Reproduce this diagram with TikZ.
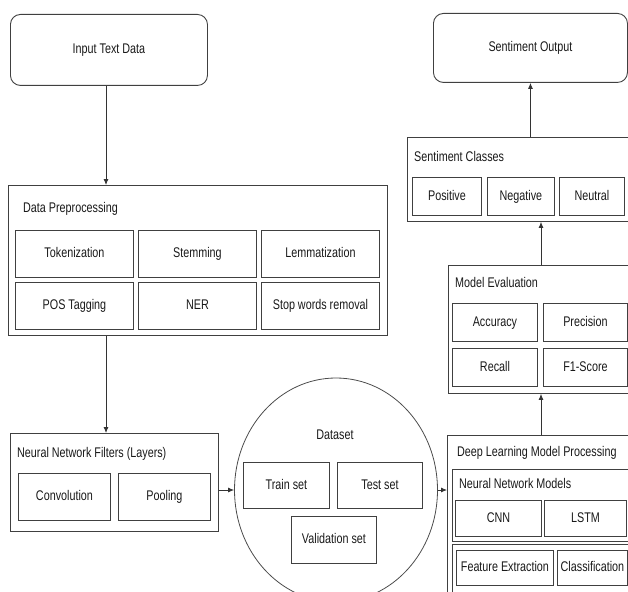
\documentclass[tikz,border=0pt]{standalone}
\usepackage{fontspec}
\setmainfont[FakeStretch=0.77]{Liberation Sans}
\usetikzlibrary{arrows.meta,shapes.geometric}
\tikzset{
  every node/.style={font=\fontsize{14pt}{16pt}\selectfont, text=black!90, text height=1em, text depth=0.2em},
  bx/.style={draw=black!75, line width=0.9pt, anchor=north west, inner sep=0pt},
  rbx/.style={bx, rounded corners=10pt},
  lbl/.style={anchor=west, inner sep=0pt},
  arr/.style={draw=black!80, line width=0.8pt, -{Latex[length=6pt,width=5pt]}}
}
\newcommand{\bxat}[6]{\node[bx, minimum width=#4pt-#2pt, minimum height=#5pt-#3pt] (#1) at (#2,#3) {#6};}
\begin{document}
\begin{tikzpicture}[x=1pt,y=-1pt]
\useasboundingbox (0,0) rectangle (628,591);
\clip (0,0) rectangle (628,591);
% Input
\node[rbx, minimum width=197pt, minimum height=71pt] (in) at (10,14) {Input Text Data};
% Data preprocessing
\bxat{dp}{8}{185}{387}{335}{}
\node[lbl] (dpl) at (23,208) {Data Preprocessing};
\bxat{tok}{15}{230}{133}{277}{Tokenization}
\bxat{stem}{138}{230}{256}{277}{Stemming}
\bxat{lem}{261}{230}{379}{277}{Lemmatization}
\bxat{pos}{15}{282}{133}{329}{POS Tagging}
\bxat{ner}{138}{282}{256}{329}{NER}
\bxat{stop}{261}{282}{379}{329}{Stop words removal}
% Neural network filters
\bxat{nnf}{10}{433}{218}{531}{}
\node[lbl] (nnfl) at (17,453) {Neural Network Filters (Layers)};
\bxat{conv}{18}{473}{110}{520}{Convolution}
\bxat{pool}{118}{473}{210}{520}{Pooling}
% Dataset
\node[ellipse, draw=black!70, line width=0.8pt, minimum width=203pt, minimum height=224pt, inner sep=0pt] (ds) at (336,490) {};
\node (dsl) at (335,435) {Dataset};
\bxat{train}{243}{462}{329}{508}{Train set}
\bxat{test}{337}{462}{422}{508}{Test set}
\bxat{val}{291}{516}{376}{563}{Validation set}
% Deep learning
\bxat{dl}{447}{435}{700}{700}{}
\node[lbl] (dll) at (457,452) {Deep Learning Model Processing};
\bxat{nnm}{452}{469}{630}{541}{}
\node[lbl] (nnml) at (459,484) {Neural Network Models};
\bxat{cnn}{455}{500}{541}{536}{CNN}
\bxat{lstm}{544}{500}{626}{536}{LSTM}
\bxat{fc}{452}{544}{640}{620}{}
\bxat{feat}{456}{550}{553}{585}{Feature Extraction}
\bxat{cls}{557}{550}{627}{585}{Classification}
% Model evaluation
\bxat{me}{448}{265}{700}{393}{}
\node[lbl] (mel) at (455,283) {Model Evaluation};
\bxat{acc}{452}{303}{537}{341}{Accuracy}
\bxat{prec}{543}{303}{627}{341}{Precision}
\bxat{rec}{452}{348}{537}{386}{Recall}
\bxat{f1}{543}{348}{627}{386}{F1-Score}
% Sentiment classes
\bxat{sc}{407}{137}{700}{221}{}
\node[lbl] (scl) at (414,157) {Sentiment Classes};
\bxat{posi}{412}{177}{481}{215}{Positive}
\bxat{nega}{487}{177}{554}{215}{Negative}
\bxat{neut}{559}{177}{624}{215}{Neutral}
% Output
\node[rbx, minimum width=194pt, minimum height=69pt] (out) at (433,13) {Sentiment Output};
% Connectors
\coordinate (cx) at (541,0);
\coordinate (lx) at (106,0);
\draw[arr] (lx |- in.south) -- (lx |- dp.north);
\draw[arr] (lx |- dp.south) -- (lx |- nnf.north);
\draw[arr] (ds.west -| nnf.east) -- (ds.west);
\draw[arr] (ds.east) -- (ds.east -| dl.west);
\draw[arr] (cx |- dl.north) -- (cx |- me.south);
\draw[arr] (cx |- me.north) -- (cx |- sc.south);
\draw[arr] (out.south |- sc.north) -- (out.south);
\end{tikzpicture}
\end{document}
